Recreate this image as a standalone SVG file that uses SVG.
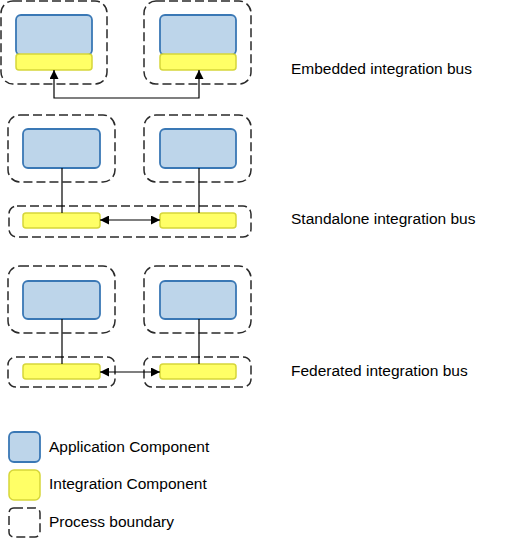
<svg xmlns="http://www.w3.org/2000/svg" width="508" height="539" viewBox="0 0 508 539">
<style>
.bnd{fill:none;stroke:#2a2a2a;stroke-width:1.5;stroke-dasharray:9,4}
.app{fill:#BDD5EA;stroke:#3A78B5;stroke-width:1.8}
.int{fill:#FFFF66;stroke:#D6D63A;stroke-width:1.5}
.con{fill:none;stroke:#000;stroke-width:1.2}
text{font-family:"Liberation Sans",Arial,sans-serif;font-size:15.5px;fill:#000}
</style>
<defs>
<marker id="ah" viewBox="0 0 10 10" refX="10" refY="5" markerWidth="9" markerHeight="9" markerUnits="userSpaceOnUse" orient="auto-start-reverse">
<path d="M0,0 L10,5 L0,10 z" fill="#000"/>
</marker>
</defs>
<rect width="508" height="539" fill="#fff"/>

<g id="embedded-left">
<rect class="bnd" x="1" y="1" width="106" height="83" rx="12"/>
<rect class="app" x="16" y="15" width="76" height="40" rx="5"/>
<rect class="int" x="16" y="54" width="76" height="16" rx="3"/>
</g>
<g id="embedded-right">
<rect class="bnd" x="144" y="1" width="107" height="83" rx="12"/>
<rect class="app" x="160" y="15" width="76" height="40" rx="5"/>
<rect class="int" x="160" y="54" width="76" height="16" rx="3"/>
</g>

<g id="standalone-left">
<rect class="bnd" x="8" y="115" width="107" height="67" rx="12"/>
<rect class="app" x="23" y="129" width="77" height="39" rx="5"/>
</g>
<g id="standalone-right">
<rect class="bnd" x="144" y="115" width="107" height="67" rx="12"/>
<rect class="app" x="160" y="129" width="76" height="39" rx="5"/>
</g>
<g id="standalone-bus">
<rect class="bnd" x="9" y="206" width="242" height="31" rx="8"/>
<rect class="int" x="23" y="213" width="77" height="15" rx="3"/>
<rect class="int" x="160" y="213" width="76" height="15" rx="3"/>
</g>

<g id="federated-left">
<rect class="bnd" x="8" y="266" width="107" height="67" rx="12"/>
<rect class="app" x="23" y="281" width="77" height="38" rx="5"/>
</g>
<g id="federated-right">
<rect class="bnd" x="144" y="266" width="107" height="67" rx="12"/>
<rect class="app" x="160" y="281" width="76" height="38" rx="5"/>
</g>
<g id="federated-bus-left">
<rect class="bnd" x="8" y="357" width="107" height="30" rx="8"/>
<rect class="int" x="23" y="364" width="77" height="15" rx="3"/>
</g>
<g id="federated-bus-right">
<rect class="bnd" x="144" y="357" width="107" height="30" rx="8"/>
<rect class="int" x="160" y="364" width="76" height="15" rx="3"/>
</g>

<g id="connectors">
<path class="con" d="M54,70 L54,98 L199,98 L199,70" marker-start="url(#ah)" marker-end="url(#ah)"/>
<line class="con" x1="62" y1="168" x2="62" y2="213"/>
<line class="con" x1="199" y1="168" x2="199" y2="213"/>
<line class="con" x1="100" y1="220" x2="160" y2="220" marker-start="url(#ah)" marker-end="url(#ah)"/>
<line class="con" x1="62" y1="319" x2="62" y2="364"/>
<line class="con" x1="199" y1="319" x2="199" y2="364"/>
<line class="con" x1="100" y1="372" x2="160" y2="372" marker-start="url(#ah)" marker-end="url(#ah)"/>
</g>

<g id="labels">
<text x="291" y="74">Embedded integration bus</text>
<text x="291" y="224">Standalone integration bus</text>
<text x="291" y="376">Federated integration bus</text>
</g>

<g id="legend">
<rect class="app" x="9" y="432" width="31" height="30" rx="5"/>
<text x="49" y="452">Application Component</text>
<rect class="int" x="9" y="470" width="31" height="30" rx="5"/>
<text x="49" y="489">Integration Component</text>
<rect class="bnd" x="9" y="508" width="31" height="29" rx="5"/>
<text x="49" y="527">Process boundary</text>
</g>
</svg>
